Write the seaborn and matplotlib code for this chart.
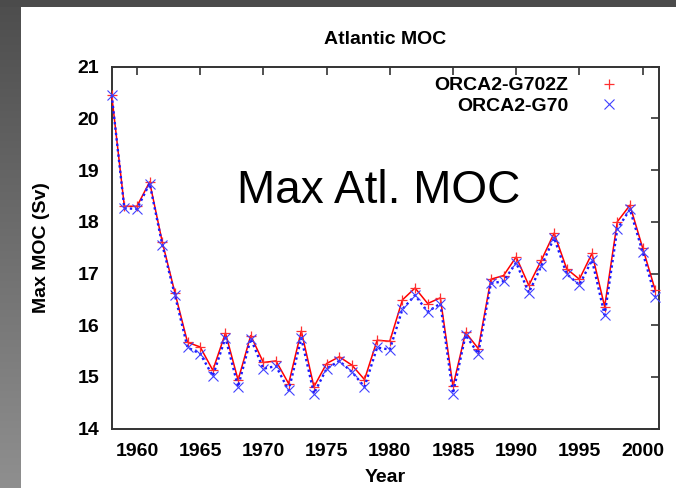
import numpy as np
import pandas as pd
import matplotlib
matplotlib.use("Agg")
import matplotlib.pyplot as plt
from matplotlib.lines import Line2D
import seaborn as sns

years = list(range(1958, 2002))
moc_g702z = [20.45, 18.30, 18.30, 18.77, 17.61, 16.63, 15.67, 15.58, 15.13, 15.85,
             14.94, 15.80, 15.28, 15.31, 14.87, 15.89, 14.81, 15.26, 15.39, 15.23,
             14.95, 15.71, 15.69, 16.49, 16.72, 16.42, 16.53, 14.82, 15.86, 15.55,
             16.89, 16.96, 17.32, 16.77, 17.26, 17.78, 17.09, 16.89, 17.39, 16.36,
             18.00, 18.32, 17.50, 16.68]
moc_g70 = [20.45, 18.26, 18.25, 18.74, 17.56, 16.58, 15.57, 15.45, 15.02, 15.76,
           14.81, 15.74, 15.16, 15.21, 14.74, 15.75, 14.68, 15.16, 15.31, 15.10,
           14.81, 15.57, 15.53, 16.31, 16.58, 16.26, 16.42, 14.68, 15.81, 15.45,
           16.81, 16.85, 17.21, 16.63, 17.15, 17.69, 16.99, 16.78, 17.26, 16.20,
           17.86, 18.24, 17.42, 16.55]
series_names = ["ORCA2-G702Z", "ORCA2-G70"]
xticks = [1960, 1965, 1970, 1975, 1980, 1985, 1990, 1995, 2000]
yticks = [14, 15, 16, 17, 18, 19, 20, 21]

sns.set_style("white")
plt.rcParams["font.family"] = ["Liberation Sans", "DejaVu Sans"]
plt.rcParams["text.color"] = "black"
plt.rcParams["axes.labelcolor"] = "black"

W, H = 676, 488
fig = plt.figure(figsize=(W / 100, H / 100), dpi=100)
fig.patch.set_facecolor("#4b4b4b")

# white panel (background axes)
bg = fig.add_axes([21 / W, 0, 1 - 21 / W, 1 - 7 / H], zorder=-10)
bg.set_facecolor("white")
bg.set_xticks([]); bg.set_yticks([])
for s in bg.spines.values():
    s.set_visible(False)

# left gradient strip
gax = fig.add_axes([0, 0, 21 / W, 1 - 7 / H], zorder=-10)
grad = np.linspace(0, 1, 256).reshape(-1, 1)
gax.imshow(grad, aspect="auto", cmap=matplotlib.colors.LinearSegmentedColormap.from_list(
    "g", ["#4e4e4e", "#8f8f8f"]), extent=[0, 1, 0, 1], origin="upper")
gax.axis("off")

left, right, top, bottom = 111.7, 659, 66.6, 428.7
ax = fig.add_axes([left / W, (H - bottom) / H, (right - left) / W, (bottom - top) / H], zorder=5)
ax.set_facecolor("none")

df = pd.DataFrame({"Year": years, "a": moc_g702z, "b": moc_g70})
sns.lineplot(data=df, x="Year", y="a", ax=ax, color="#ff0000", lw=1.1,
             marker="+", markersize=7.5, markeredgewidth=0.9,
             markeredgecolor="#ff3030", zorder=3, clip_on=False)
sns.lineplot(data=df, x="Year", y="b", ax=ax, color="#1a1aff", lw=1.7,
             linestyle=(0, (1, 1.3)), marker="x", markersize=6.5,
             markeredgewidth=0.8, markeredgecolor="#4040ff", zorder=4, clip_on=False)

ax.set_xlim(1958, 2001.3)
ax.set_ylim(14, 21)
ax.set_xticks(xticks)
ax.set_yticks(yticks)
ax.tick_params(direction="in", length=6, width=1.2, top=True, right=True,
               labelsize=14, colors="#333333", labelcolor="black")
ax.tick_params(axis="x", pad=10)
ax.tick_params(axis="y", pad=9)
for lab in ax.get_xticklabels() + ax.get_yticklabels():
    lab.set_fontweight("bold")
for s in ax.spines.values():
    s.set_linewidth(1.4)
    s.set_color("#333333")

ax.set_xlabel("Year", fontsize=14, fontweight="bold", labelpad=7)
ax.set_ylabel("Max MOC (Sv)", fontsize=14, fontweight="bold", labelpad=20)
ax.set_title("Atlantic MOC", fontsize=14, fontweight="bold", pad=16)

ax.text(1967.9, 18.37, "Max Atl. MOC", fontsize=33, va="baseline", ha="left", color="black")

handles = [Line2D([], [], color="#ff3030", marker="+", ls="none", markersize=7.5, markeredgewidth=0.9),
           Line2D([], [], color="#4040ff", marker="x", ls="none", markersize=6.5, markeredgewidth=0.8)]
leg = ax.legend(handles, series_names, loc="upper right", frameon=False,
                markerfirst=False, bbox_to_anchor=(0.976, 1.02),
                prop={"weight": "bold", "size": 14}, handletextpad=1.1,
                labelspacing=0.15)

fig.savefig("out.png", dpi=100, facecolor=fig.get_facecolor())
